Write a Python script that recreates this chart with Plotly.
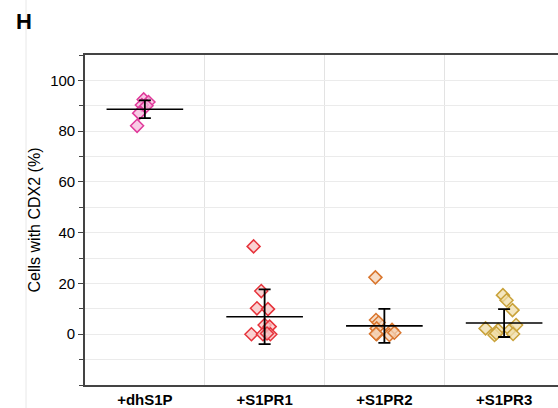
import plotly.graph_objects as go

categories = ["+dhS1P", "+S1PR1", "+S1PR2", "+S1PR3"]

dhs1p_vals = [92.5, 91.5, 90.3, 90.0, 87.1, 82.1]
dhs1p_jit = [-0.01, 0.03, -0.025, 0.014, -0.048, -0.065]

s1pr1_vals = [34.6, 17.0, 10.2, 9.9, 3.6, 3.0, 0.0, 0.0, 0.0, 0.3]
s1pr1_jit = [-0.092, -0.028, -0.064, 0.028, 0.0, 0.042, -0.11, -0.014, 0.048, 0.02]

s1pr2_vals = [22.4, 5.6, 4.6, 2.3, 0.0, 1.7, -0.3, 0.6, 0.2]
s1pr2_jit = [-0.075, -0.07, -0.048, -0.064, -0.064, 0.064, 0.042, 0.083, -0.07]

s1pr3_vals = [15.4, 13.4, 9.5, 2.3, 1.7, -0.3, 1.7, 3.6, 0.1, 0.4]
s1pr3_jit = [-0.01, 0.02, 0.07, -0.155, -0.05, -0.08, 0.05, 0.1, 0.075, -0.065]

means = [88.6, 6.9, 3.3, 4.4]
sds = [3.5, 10.8, 6.7, 5.5]

edge_colors = ["#E0399A", "#E6333B", "#D9762E", "#C9A23A"]
fill_colors = ["rgba(245,185,220,0.75)", "rgba(248,195,195,0.75)",
               "rgba(244,210,180,0.75)", "rgba(240,222,170,0.75)"]

groups = [(dhs1p_vals, dhs1p_jit), (s1pr1_vals, s1pr1_jit),
          (s1pr2_vals, s1pr2_jit), (s1pr3_vals, s1pr3_jit)]

FONT = "Arial, Liberation Sans, sans-serif"

fig = go.Figure()

for i, (vals, jit) in enumerate(groups):
    fig.add_trace(go.Scatter(
        x=[i + j for j in jit], y=vals, mode="markers",
        marker=dict(symbol="diamond", size=10, color=fill_colors[i],
                    line=dict(color=edge_colors[i], width=1.5)),
        showlegend=False, hoverinfo="y"))

half = 0.32
for i, m in enumerate(means):
    fig.add_trace(go.Scatter(
        x=[i - half, i + half], y=[m, m], mode="lines",
        line=dict(color="black", width=1.6), showlegend=False, hoverinfo="skip"))

fig.add_trace(go.Scatter(
    x=list(range(len(categories))), y=means, mode="markers",
    marker=dict(size=1, color="rgba(0,0,0,0)"),
    error_y=dict(type="data", array=sds, visible=True, color="black",
                 thickness=1.8, width=6),
    showlegend=False, hoverinfo="skip"))

fig.update_layout(
    width=558, height=408,
    margin=dict(l=85, r=0, t=55, b=23),
    paper_bgcolor="white", plot_bgcolor="white",
    font=dict(family=FONT, size=15, color="black"),
    xaxis=dict(
        range=[-0.5, 3.45], tickvals=[0, 1, 2, 3],
        ticktext=["<b>%s</b>" % c for c in categories],
        tickfont=dict(size=15, family=FONT),
        showgrid=False, zeroline=False, showline=True, linecolor="#444444",
        linewidth=1.6, mirror=True, ticks="", automargin=False,
        minor=dict(tickvals=[0.5, 1.5, 2.5], showgrid=True,
                   gridcolor="#e3e3e3", gridwidth=1, ticks=""),
    ),
    yaxis=dict(
        range=[-20, 110], tickvals=[0, 20, 40, 60, 80, 100],
        tickfont=dict(size=15, family=FONT),
        title=dict(text="Cells with CDX2 (%)", font=dict(size=16, family=FONT), standoff=6),
        showgrid=True, gridcolor="#ebebeb", gridwidth=1,
        zeroline=False, showline=True, linecolor="#444444", linewidth=1.6,
        ticks="outside", ticklen=5, tickwidth=1.2, tickcolor="#444444",
        automargin=False,
        minor=dict(dtick=10, tick0=0, showgrid=True, gridcolor="#ebebeb",
                   ticks="outside", ticklen=4, tickcolor="#444444"),
    ),
)

fig.add_shape(type="line", xref="paper", yref="paper",
              x0=(26 - 85) / 473, x1=(26 - 85) / 473, y0=-0.1, y1=1.2,
              line=dict(color="#e8e8e8", width=1), layer="below")

fig.add_annotation(text="<b>H</b>", xref="paper", yref="paper",
                   x=(14 - 85) / 473, y=1 + (55 - 21) / 330,
                   xanchor="left", yanchor="middle", showarrow=False,
                   font=dict(size=22, color="black", family=FONT))

fig.write_html("out.html")
